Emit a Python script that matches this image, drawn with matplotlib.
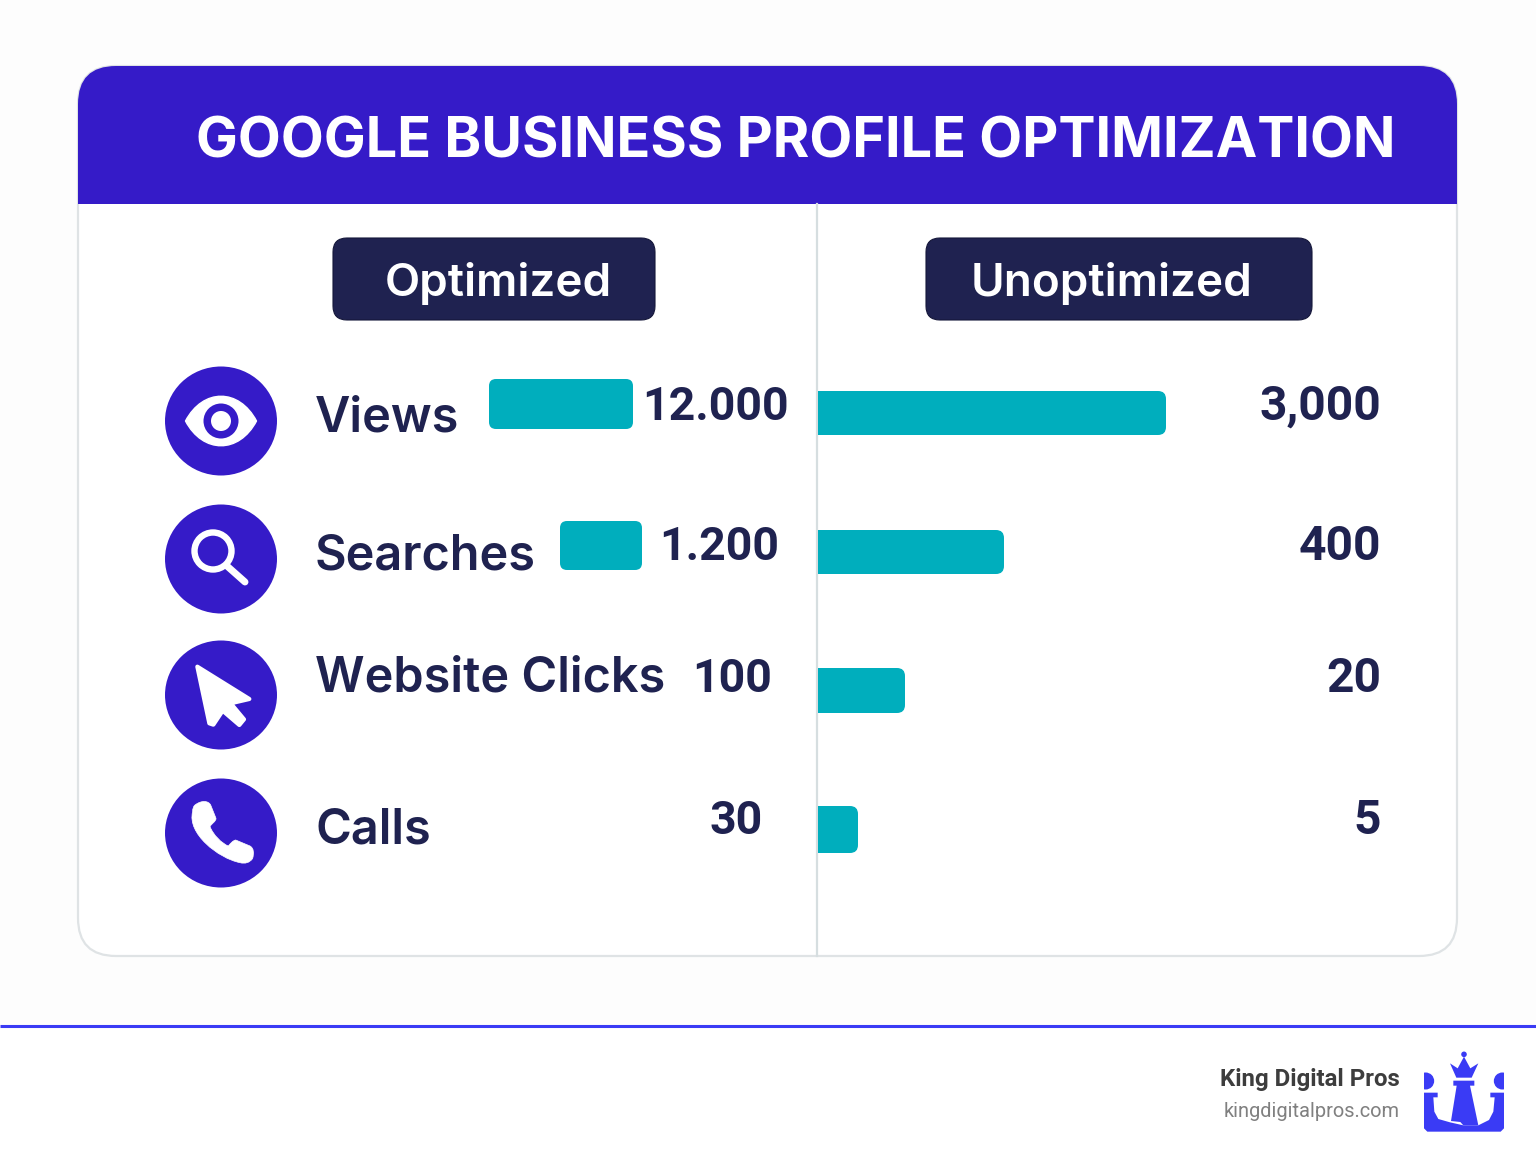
import matplotlib
matplotlib.use("Agg")
import matplotlib.pyplot as plt
from matplotlib.patches import Circle, Ellipse, FancyBboxPatch, PathPatch, Polygon, Rectangle
from matplotlib.path import Path

title = "GOOGLE BUSINESS PROFILE OPTIMIZATION"
headers = ["Optimized", "Unoptimized"]
categories = ["Views", "Searches", "Website Clicks", "Calls"]
optimized_labels = ["12.000", "1.200", "100", "30"]
unoptimized_labels = ["3,000", "400", "20", "5"]
# bar lengths as drawn, they do not follow the labels
optimized_bars = [144, 82]
unoptimized_bars = [348, 186, 87, 40]
brand = "King Digital Pros"
site = "kingdigitalpros.com"

BLUE = "#351BC8"
NAVY = "#1F2250"
TEAL = "#00AEBD"
LOGO = "#3A3BF5"
FONT = "Inter"

fig = plt.figure(figsize=(15.36, 11.54), dpi=100, facecolor="#FDFDFD")
ax = fig.add_axes([0, 0, 1, 1])
ax.set_xlim(0, 1536)
ax.set_ylim(1154, 0)
ax.axis("off")


def round_box(x0, y0, x1, y1, r, **kw):
    box = FancyBboxPatch((x0, y0), x1 - x0, y1 - y0,
                         boxstyle=f"round,pad=0,rounding_size={r}", **kw)
    ax.add_patch(box)
    return box


# card + header
card = round_box(78, 66, 1457, 956, 38, fc="white", ec="#DFE3E5", lw=1.6, zorder=1)
head = round_box(78, 66, 1457, 300, 38, fc=BLUE, ec="none", zorder=2)
head.set_clip_path(Rectangle((70, 60), 1395, 144, transform=ax.transData))
ax.text(796, 158, title, color="white", fontsize=40.2, fontweight="bold", family=FONT,
        ha="center", va="baseline", zorder=3)
ax.plot([817, 817], [204, 956], color="#D6DEE0", lw=1.6, zorder=2)

# column headers
pill_x = [(333, 655), (926, 1312)]
pill_text_x = [498, 1112]
for (x0, x1), tx, name in zip(pill_x, pill_text_x, headers):
    round_box(x0, 238, x1, 320, 14, fc=NAVY, ec="#15173A", lw=0.8, zorder=2)
    ax.text(tx, 296, name, color="white", fontsize=33, fontweight="semibold", family=FONT,
            ha="center", va="baseline", zorder=3)

# rows
cat_base = [431, 569, 692, 844]
val_base = [420, 560, 692, 834]
opt_right = [789, 779, 772, 763]
for cat, y, opt, unopt, yv, xr in zip(categories, cat_base, optimized_labels,
                                      unoptimized_labels, val_base, opt_right):
    ax.text(315, y, cat, color=NAVY, fontsize=35, fontweight="semibold", family=FONT,
            ha="left", va="baseline", zorder=3)
    ax.text(xr, yv, opt, color=NAVY, fontsize=33.5, fontweight="bold", family="Roboto",
            ha="right", va="baseline", zorder=3)
    ax.text(1381, yv, unopt, color=NAVY, fontsize=34.5, fontweight="bold", family="Roboto",
            ha="right", va="baseline", zorder=3)

opt_start = [489, 560]
opt_y = [(379, 429), (521, 570)]
for x0, (y0, y1), w in zip(opt_start, opt_y, optimized_bars):
    round_box(x0, y0, x0 + w, y1, 7, fc=TEAL, ec="none", zorder=2)

unopt_y = [(391, 435), (530, 574), (668, 713), (806, 853)]
right_clip = Rectangle((818, 300), 600, 600, transform=ax.transData)
for (y0, y1), w in zip(unopt_y, unoptimized_bars):
    bar = round_box(800, y0, 818 + w, y1, 8, fc=TEAL, ec="none", zorder=2)
    bar.set_clip_path(right_clip)

# icons
icon_y = [421, 559, 695, 833]
for y in icon_y:
    ax.add_patch(Ellipse((221, y), 112, 109, fc=BLUE, ec="none", zorder=2))

# eye
cx, cy = 221, icon_y[0]
eye = Path([(cx - 35.5, cy), (cx - 18, cy - 33), (cx + 18, cy - 33), (cx + 35.5, cy),
            (cx + 18, cy + 33), (cx - 18, cy + 33), (cx - 35.5, cy), (cx - 35.5, cy)],
           [Path.MOVETO, Path.CURVE4, Path.CURVE4, Path.CURVE4,
            Path.CURVE4, Path.CURVE4, Path.CURVE4, Path.CLOSEPOLY])
ax.add_patch(PathPatch(eye, fc="white", ec="white", lw=1, joinstyle="round", zorder=3))
ax.add_patch(Circle((cx, cy), 17.5, fc=BLUE, ec="none", zorder=4))
ax.add_patch(Circle((cx, cy), 10, fc="white", ec="none", zorder=5))

# magnifier
ax.add_patch(Circle((213, 551), 18.5, fc="none", ec="white", lw=4.6, zorder=3))
ax.plot([227, 245], [566, 582], color="white", lw=5, solid_capstyle="round", zorder=3)


def zoom_pts(pts, x0, y0):
    return [(x0 + x / 3, y0 + y / 3) for x, y in pts]


# cursor
cursor = [(172, 110), (328, 207), (272, 220), (312, 268), (298, 285),
          (248, 242), (220, 284), (208, 280)]
ax.add_patch(Polygon(zoom_pts(cursor, 140, 630), closed=True, fc="white", ec="white",
                     lw=3, joinstyle="round", zorder=3))

# phone
phone = zoom_pts([(165, 525), (185, 510), (205, 512), (212, 525), (228, 565),
                  (228, 575), (215, 580), (210, 590),
                  (220, 615), (245, 640), (265, 648),
                  (272, 640), (278, 632), (287, 630), (330, 648),
                  (342, 655), (342, 670), (338, 685),
                  (330, 698), (315, 702), (300, 698),
                  (235, 685), (140, 610), (158, 545),
                  (158, 535), (160, 530), (165, 525), (165, 525)], 140, 630)
codes = [Path.MOVETO, Path.CURVE4, Path.CURVE4, Path.LINETO, Path.LINETO] \
    + [Path.CURVE4] * 9 + [Path.LINETO] + [Path.CURVE4] * 12 + [Path.CLOSEPOLY]
ax.add_patch(PathPatch(Path(phone, codes), fc="white", ec="white", lw=0.5,
                       joinstyle="round", zorder=3))

# footer
ax.add_patch(Rectangle((0, 1026), 1536, 128, fc="white", ec="none", zorder=0))
ax.plot([0, 1536], [1025.5, 1025.5], color=LOGO, lw=2.2, zorder=2, solid_capstyle="butt")
ax.text(1400, 1086, brand, color="#3D3D3D", fontsize=17.3, fontweight="bold", family="Roboto",
        ha="right", va="baseline", zorder=3)
ax.text(1400, 1117, site, color="#808080", fontsize=14.4, family="Roboto",
        ha="right", va="baseline", zorder=3)

# logo, points taken in 3x crop coords
lx, ly = 1415, 1045
u_shape = [(27, 143), (68, 143), (68, 157), (55, 157), (58, 200), (70, 222), (105, 232),
           (145, 241), (190, 241), (222, 225), (235, 200), (239, 157), (226, 157), (226, 143),
           (267, 143), (267, 250), (257, 260), (37, 260), (27, 250)]
ax.add_patch(Polygon(zoom_pts(u_shape, lx, ly), closed=True, fc=LOGO, ec="none", zorder=3))
piece = [(115, 107), (178, 107), (178, 122), (165, 122), (190, 241), (145, 241), (136, 231),
         (108, 228), (125, 122), (115, 122)]
ax.add_patch(Polygon(zoom_pts(piece, lx, ly), closed=True, fc=LOGO, ec="none", zorder=3))
crown = [(105, 55), (128, 70), (147, 35), (166, 70), (190, 55), (170, 98), (124, 98)]
ax.add_patch(Polygon(zoom_pts(crown, lx, ly), closed=True, fc=LOGO, ec="none", zorder=3))
ax.add_patch(Circle((lx + 147 / 3, ly + 28 / 3), 2.8, fc=LOGO, ec="none", zorder=3))
logo_box = Rectangle((1424, 1060), 80, 40, transform=ax.transData)
for bx in [32, 262]:
    blob = Circle((lx + bx / 3, ly + 108 / 3), 8.5, fc=LOGO, ec="none", zorder=3)
    ax.add_patch(blob)
    blob.set_clip_path(logo_box)

fig.savefig("out.png", dpi=100, facecolor=fig.get_facecolor())
